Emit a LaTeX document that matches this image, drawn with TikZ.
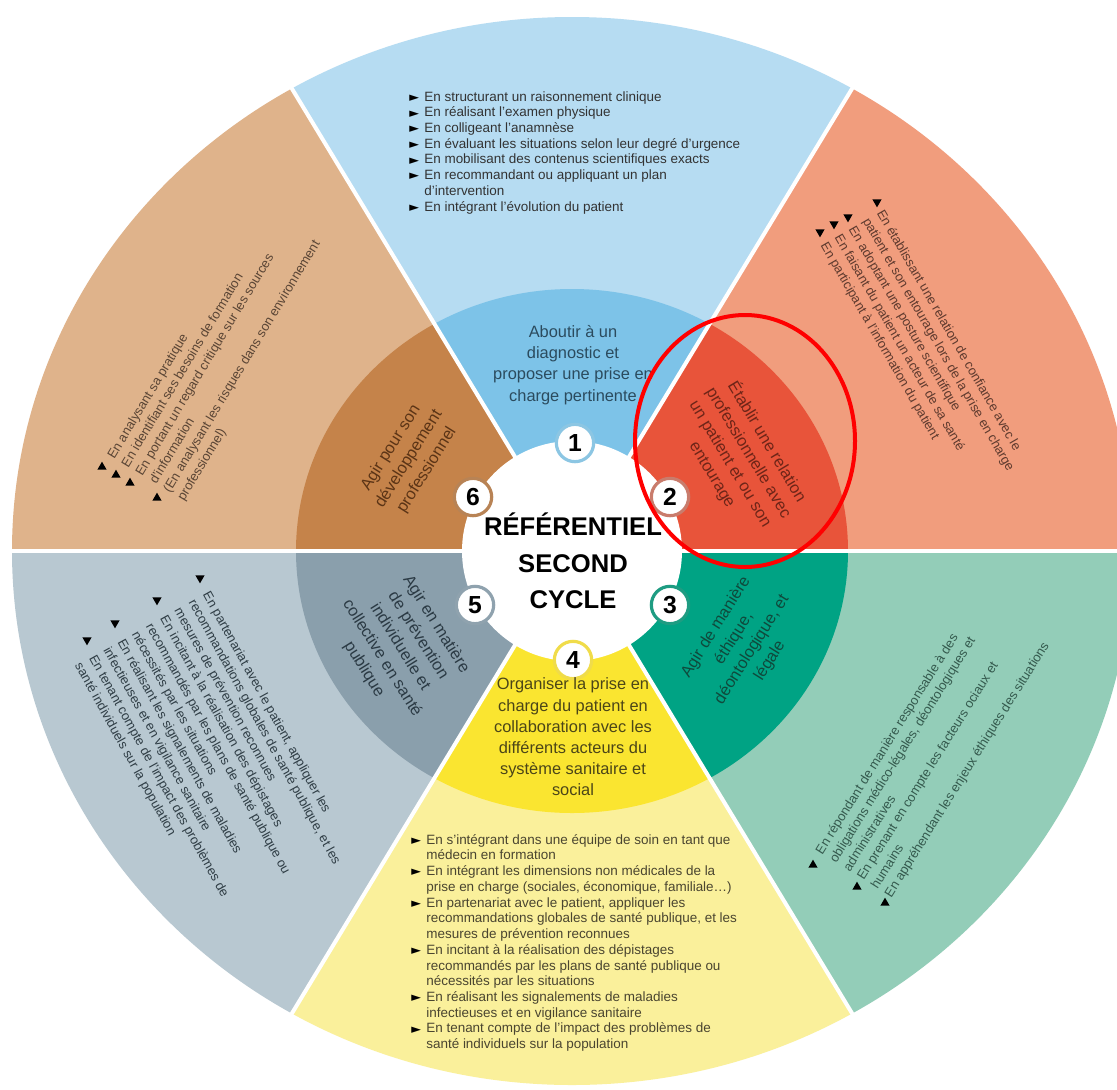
\documentclass[tikz,border=0pt]{standalone}
\usepackage{fontspec}
\usepackage{graphicx}
\setmainfont{Liberation Sans}
\newfontfamily\symf{DejaVu Sans}
\usetikzlibrary{shapes.geometric}
\definecolor{bOut}{HTML}{B6DCF2}
\definecolor{bIn}{HTML}{7DC3E8}
\definecolor{rOut}{HTML}{F19D7D}
\definecolor{rIn}{HTML}{E8543A}
\definecolor{gOut}{HTML}{93CDB8}
\definecolor{gIn}{HTML}{00A384}
\definecolor{yOut}{HTML}{FAF09B}
\definecolor{yIn}{HTML}{FAE530}
\definecolor{sOut}{HTML}{B8C8D1}
\definecolor{sIn}{HTML}{8A9FAC}
\definecolor{tOut}{HTML}{DFB38B}
\definecolor{tIn}{HTML}{C5834A}
\definecolor{nB}{HTML}{8CC6E3}
\definecolor{nR}{HTML}{C97C6C}
\definecolor{nG}{HTML}{1E9C82}
\definecolor{nY}{HTML}{F0DC4A}
\definecolor{nS}{HTML}{8FA2AE}
\definecolor{nT}{HTML}{B88355}
\definecolor{txTop}{HTML}{333333}
\definecolor{txR}{HTML}{5E3A2E}
\definecolor{txT}{HTML}{5A4535}
\definecolor{txS}{HTML}{2F3D45}
\definecolor{txG}{HTML}{355A4E}
\definecolor{txY}{HTML}{4A4530}
\definecolor{lbB}{HTML}{2B4B5E}
\definecolor{lbR}{HTML}{6E2518}
\definecolor{lbT}{HTML}{5B3416}
\definecolor{lbS}{HTML}{2B3A44}
\definecolor{lbG}{HTML}{0F4A3C}
\definecolor{lbY}{HTML}{4B4518}
\newcommand{\bul}{\makebox[11.3pt][l]{\raisebox{-0.2pt}{\symf\fontsize{9.5}{9.5}\selectfont\color{black}►}}}
\newcommand{\ind}{\hspace*{11.3pt}}
\tikzset{
  outtext/.style={align=left, inner sep=0pt, font=\fontsize{10.1}{11.8}\selectfont},
  rottext/.style={align=left, inner sep=0pt, font=\fontsize{9.75}{12.2}\selectfont},
  ringlabel/.style={align=center, inner sep=0pt, font=\fontsize{12.3}{15.9}\selectfont},
  numc/.style={circle, fill=white, line width=2.4pt, minimum size=28pt, inner sep=0pt,
    font=\bfseries\fontsize{18.5}{18.5}\selectfont},
  bdown/.style={regular polygon, regular polygon sides=3, shape border rotate=180,
    fill=black, minimum size=8pt, inner sep=0pt},
  bup/.style={regular polygon, regular polygon sides=3,
    fill=black, minimum size=8pt, inner sep=0pt},
  sepline/.style={white, line width=3pt}
}
\begin{document}
\begin{tikzpicture}[x=0.75pt,y=-0.75pt]
\useasboundingbox (0,0) rectangle (1117,1089);
\clip (0,0) rectangle (1117,1089);
\fill[white] (0,0) rectangle (1117,1089);
\coordinate (C) at (572,551);
% sectors
\foreach \a/\oc/\ic in {0/rOut/rIn, 60/bOut/bIn, 120/tOut/tIn, 180/sOut/sIn, 240/yOut/yIn, 300/gOut/gIn}{
  \begin{scope}
    \clip[shift={(572,551)}] (0,0) -- ({1400*cos(\a)},{-1335*sin(\a)}) -- ({1400*cos(\a+60)},{-1335*sin(\a+60)}) -- cycle;
    \fill[\oc] (C) ellipse[x radius=560, y radius=534];
    \fill[\ic] (C) ellipse[x radius=276, y radius=262];
  \end{scope}
}
\foreach \a in {0,60,...,300}{
  \draw[sepline] (C) -- ++({640*cos(\a)},{-610*sin(\a)});
}
% hub
\fill[white] (C) circle[radius=110];
\node[numc, draw=nB] (n1) at (575,443) {1};
\node[numc, draw=nR] (n2) at (670,497) {2};
\node[numc, draw=nG] (n3) at (670,605) {3};
\node[numc, draw=nY] (n4) at (573,660) {4};
\node[numc, draw=nS] (n5) at (475,605) {5};
\node[numc, draw=nT] (n6) at (473,497) {6};
\node[align=center, inner sep=0pt, font=\bfseries\fontsize{19.2}{27.4}\selectfont] (hub) at (573,561) {RÉFÉRENTIEL\\SECOND\\CYCLE};
% ring labels
\node[ringlabel, text=lbB] (l1) at (573,365) {Aboutir à un\\diagnostic et\\proposer une prise en\\charge pertinente};
\node[ringlabel, text=lbR, rotate=-59] (l2) at (740,458) {Établir une relation\\professionnelle avec\\un patient et ou son\\entourage};
\node[ringlabel, text=lbG, rotate=58] (l3) at (743,644) {Agir de manière\\éthique,\\déontologique, et\\légale};
\node[ringlabel, text=lbY] (l4) at (573,737) {Organiser la prise en\\charge du patient en\\collaboration avec les\\différents acteurs du\\système sanitaire et\\social};
\node[ringlabel, text=lbS, rotate=-58] (l5) at (400,647) {Agir en matière\\de prévention\\individuelle et\\collective en santé\\publique};
\node[ringlabel, text=lbT, rotate=58] (l6) at (409,459) {Agir pour son\\développement\\professionnel};
% outer texts
\node[outtext, anchor=north west, text=txTop] (o1) at (409,91) {%
\bul En structurant un raisonnement clinique\\
\bul En réalisant l’examen physique\\
\bul En colligeant l’anamnèse\\
\bul En évaluant les situations selon leur degré d’urgence\\
\bul En mobilisant des contenus scientifiques exacts\\
\bul En recommandant ou appliquant un plan\\
\ind d’intervention\\
\bul En intégrant l’évolution du patient};
\node[outtext, anchor=north west, text=txY] (o4) at (411,834) {%
\bul En s’intégrant dans une équipe de soin en tant que\\
\ind médecin en formation\\
\bul En intégrant les dimensions non médicales de la\\
\ind prise en charge (sociales, économique, familiale…)\\
\bul En partenariat avec le patient, appliquer les\\
\ind recommandations globales de santé publique, et les\\
\ind mesures de prévention reconnues\\
\bul En incitant à la réalisation des dépistages\\
\ind recommandés par les plans de santé publique ou\\
\ind nécessités par les situations\\
\bul En réalisant les signalements de maladies\\
\ind infectieuses et en vigilance sanitaire\\
\bul En tenant compte de l’impact des problèmes de\\
\ind santé individuels sur la population};
\node[rottext, anchor=north west, rotate=-60, text=txR] (o2) at (885,208) {%
En établissant une relation de confiance avec le\\
patient et son entourage lors de la prise en charge\\
En adoptant une posture scientifique\\
En faisant du patient un acteur de sa santé\\
En participant à l’information du patient};
\node[rottext, anchor=north west, rotate=59, text=txT] (o6) at (106,455) {%
En analysant sa pratique\\
En identifiant ses besoins de formation\\
En portant un regard critique sur les sources\\
d’information\\
(En analysant les risques dans son environnement\\
professionnel)};
\node[rottext, anchor=north west, rotate=-61, text=txS] (o5) at (211,590) {%
En partenariat avec le patient, appliquer les\\
recommandations globales de santé publique, et les\\
mesures de prévention reconnues\\
En incitant à la réalisation des dépistages\\
recommandés par les plans de santé publique ou\\
nécessités par les situations\\
En réalisant les signalements de maladies\\
infectieuses et en vigilance sanitaire\\
En tenant compte de l’impact des problèmes de\\
santé individuels sur la population};
\node[rottext, anchor=north west, rotate=58, text=txG] (o3) at (814,850) {%
En répondant de manière responsable à des\\
obligations médico-légales, déontologiques et\\
administratives\\
En prenant en compte les facteurs ociaux et\\
humains\\
En appréhendant les enjeux éthiques des situations};
% detached bullets
\node[bdown] (b21) at (877,202) {};
\node[bdown] (b22) at (848,217) {};
\node[bdown] (b23) at (834,224) {};
\node[bdown] (b24) at (820,232) {};
\node[bup] (b61) at (102,467) {};
\node[bup] (b62) at (116,475) {};
\node[bup] (b63) at (130,483) {};
\node[bup] (b64) at (157,498) {};
\node[bdown] (b51) at (200,578) {};
\node[bdown] (b52) at (157,600) {};
\node[bdown] (b53) at (115,623) {};
\node[bdown] (b54) at (87,640) {};
\node[bup] (b31) at (813,865) {};
\node[bup] (b32) at (857,887) {};
\node[bup] (b33) at (885,903) {};
% highlight
\draw[red, line width=3pt] (745,441) ellipse[x radius=110, y radius=126];
\end{tikzpicture}
\end{document}
